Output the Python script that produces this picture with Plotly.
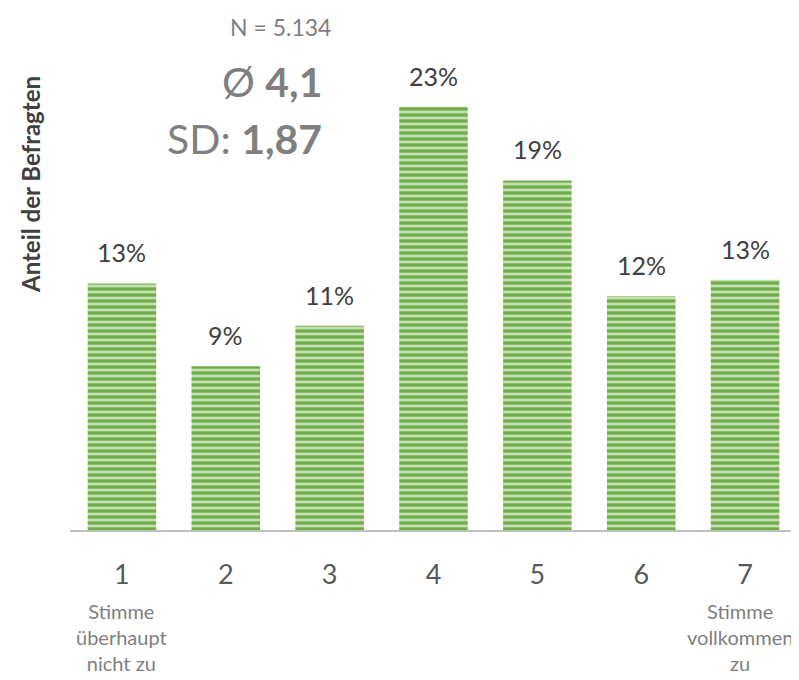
import plotly.graph_objects as go

categories = ["1", "2", "3", "4", "5", "6", "7"]
shares = [13.4, 8.9, 11.1, 23.0, 19.0, 12.7, 13.6]
share_labels = ["13%", "9%", "11%", "23%", "19%", "12%", "13%"]
low_label = "Stimme<br>überhaupt<br>nicht zu"
high_label = "Stimme<br>vollkommen<br>zu"

FONT = "Lato"
# the page body has an 8px margin, so the figure is drawn 8px smaller
OFF = 8
W, H = 799 - OFF, 680 - OFF
L, R, T, B = 62, 2, 62, 150
pw, ph = W - L - R, H - T - B


def px(x):
    return (x - OFF - L) / pw


def py(y):
    return (H - B - (y - OFF)) / ph


fig = go.Figure()
fig.add_trace(go.Bar(
    x=list(range(len(categories))),
    y=shares,
    width=0.66,
    marker=dict(
        color="#a9d18e",
        line=dict(width=0),
        pattern=dict(shape="-", fgcolor="#70ad47", bgcolor="#c5e0b4",
                     size=6, solidity=0.55, fillmode="replace"),
    ),
    hoverinfo="skip",
))

annotations = []
for i, (v, lab) in enumerate(zip(shares, share_labels)):
    annotations.append(dict(text=lab, x=i, y=v, xref="x", yref="y", showarrow=False,
                            yanchor="bottom", yshift=14,
                            font=dict(size=25, color="#404040", family=FONT)))

annotations += [
    dict(text="<b>Anteil der Befragten</b>", x=px(30), y=py(185), xref="paper", yref="paper",
         textangle=-90, showarrow=False,
         font=dict(size=24, color="#404040", family=FONT), xanchor="center", yanchor="middle"),
    dict(text="N = 5.134", x=px(280), y=py(27), xref="paper", yref="paper",
         showarrow=False, font=dict(size=23, color="#7f7f7f", family=FONT),
         xanchor="center", yanchor="middle"),
    dict(text="Ø <b>4,1</b>", x=px(324), y=py(82), xref="paper", yref="paper",
         showarrow=False, font=dict(size=41, color="#7f7f7f", family=FONT),
         xanchor="right", yanchor="middle"),
    dict(text="SD: <b>1,87</b>", x=px(324), y=py(138), xref="paper", yref="paper",
         showarrow=False, font=dict(size=41, color="#7f7f7f", family=FONT),
         xanchor="right", yanchor="middle"),
    dict(text=low_label, x=0, y=py(637), xref="x", yref="paper",
         showarrow=False, font=dict(size=20, color="#7f7f7f", family=FONT),
         xanchor="center", yanchor="middle", align="center"),
    dict(text=high_label, x=px(795), y=py(637), xref="paper", yref="paper",
         showarrow=False, font=dict(size=20, color="#7f7f7f", family=FONT),
         xanchor="right", yanchor="middle", align="center"),
]

fig.update_layout(
    width=W, height=H,
    margin=dict(l=L, r=R, t=T, b=B),
    plot_bgcolor="white", paper_bgcolor="white",
    showlegend=False,
    xaxis=dict(
        range=[-0.5, 6.5],
        tickmode="array", tickvals=list(range(len(categories))), ticktext=categories,
        showline=True, linecolor="#bfbfbf", linewidth=2,
        ticks="", showgrid=False, zeroline=False,
        tickfont=dict(size=27, color="#595959", family=FONT),
        ticklabelstandoff=20,
    ),
    yaxis=dict(range=[0, 25], visible=False, showgrid=False),
    annotations=annotations,
)

fig.write_html("out.html")
